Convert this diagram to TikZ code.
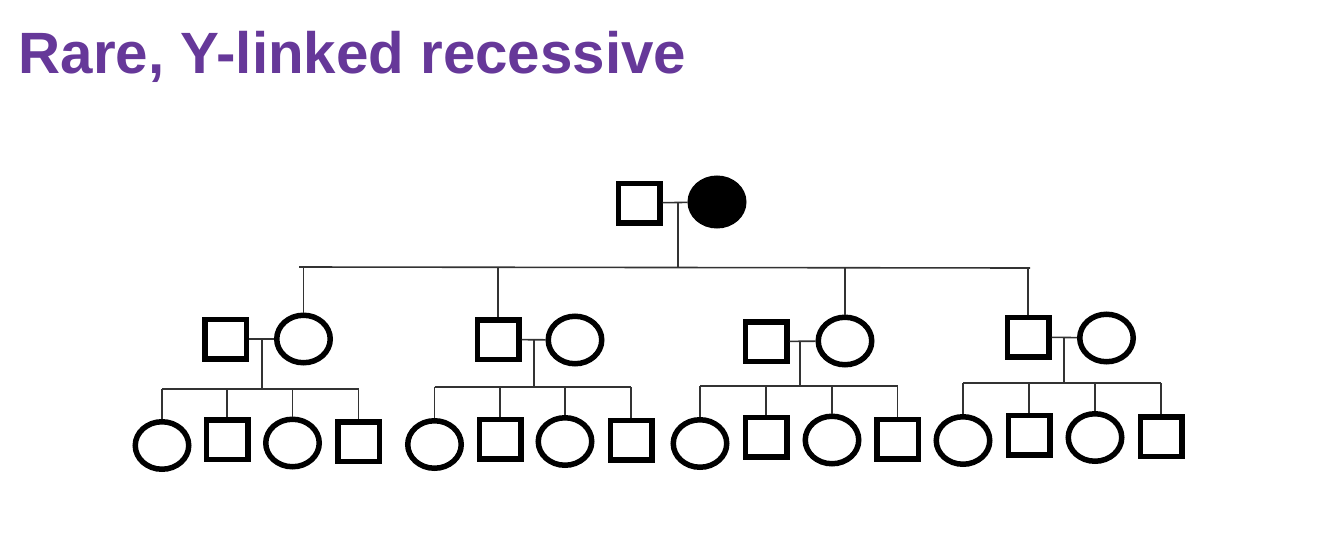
\documentclass[tikz,border=0pt]{standalone}
\usepackage{fontspec}
\newfontfamily\titlefont{Liberation Sans}
\usepackage{tikz}
\usetikzlibrary{shapes.geometric,positioning}
\usepackage{xcolor}
\definecolor{titlepurple}{RGB}{102,56,153}
\tikzset{
  male/.style={draw, rectangle, line width=5.5pt, minimum width=41.5pt, minimum height=39.5pt, inner sep=0pt},
  female/.style={draw, ellipse, line width=5.5pt, minimum width=53.5pt, minimum height=47.5pt, inner sep=0pt},
  affected/.style={fill=black},
  link/.style={draw=black!80, line width=1.6pt}
}

\begin{document}
\begin{tikzpicture}[x=1pt,y=-1pt]
    \useasboundingbox (0,0) rectangle (1334,536);
    \node[anchor=base west, inner sep=0pt, text=titlepurple, font=\titlefont\bfseries\fontsize{58.3}{60}\selectfont] (title) at (18.5,73) {Rare, Y-linked recessive};

    % generation I
    \node[male] (gf) at (639,203) {};
    \node[female,affected] (gm) at (717,202) {};
    \draw[link] (gf) -- (gm);
    \coordinate (gd) at (678,202);
    \coordinate (sibL) at (299,267);
    \coordinate (sibR) at (1030,268);
    \draw[link] (gd) -- (gd |- sibL);
    \draw[link] (sibL) -- (sibR);

    % generation II
    \node[male] (f1) at (225.5,339) {};
    \node[female] (m1) at (303.5,339) {};
    \node[male] (f2) at (498,339.5) {};
    \node[female] (m2) at (575,340) {};
    \node[male] (f3) at (766,341.5) {};
    \node[female] (m3) at (845,341) {};
    \node[male] (f4) at (1028,337) {};
    \node[female] (m4) at (1106.5,338) {};
    \foreach \n in {m1,f2,m3,f4} {
        \draw[link] (\n.north) -- (\n.north |- sibL);
    }
    \foreach \i/\dx/\dy/\sy in {1/262/339/389, 2/534/340/387, 3/800/341/386, 4/1064/337/383} {
        \draw[link] (f\i) -- (m\i);
        \coordinate (d\i) at (\dx,\dy);
        \coordinate (s\i) at (\dx,\sy);
        \draw[link] (d\i) -- (s\i);
    }

    % generation III
    \foreach \j/\x/\y/\s in {1/162/445.5/female, 2/227/439.5/male, 3/292.5/443/female, 4/358.5/441.5/male} {
        \node[\s] (c1\j) at (\x,\y) {};
        \draw[link] (c1\j.north) -- (c1\j.north |- s1);
    }
    \foreach \j/\x/\y/\s in {1/434.5/444.5/female, 2/500/439/male, 3/565/441.5/female, 4/631/440/male} {
        \node[\s] (c2\j) at (\x,\y) {};
        \draw[link] (c2\j.north) -- (c2\j.north |- s2);
    }
    \foreach \j/\x/\y/\s in {1/700/443.5/female, 2/766/437/male, 3/832/440/female, 4/897.5/439/male} {
        \node[\s] (c3\j) at (\x,\y) {};
        \draw[link] (c3\j.north) -- (c3\j.north |- s3);
    }
    \foreach \j/\x/\y/\s in {1/963/440.5/female, 2/1029/435/male, 3/1095/437.5/female, 4/1161/436.5/male} {
        \node[\s] (c4\j) at (\x,\y) {};
        \draw[link] (c4\j.north) -- (c4\j.north |- s4);
    }
    \foreach \i in {1,2,3,4} {
        \draw[link] (c\i1.north |- s\i) -- (c\i4.north |- s\i);
    }
\end{tikzpicture}
\end{document}
